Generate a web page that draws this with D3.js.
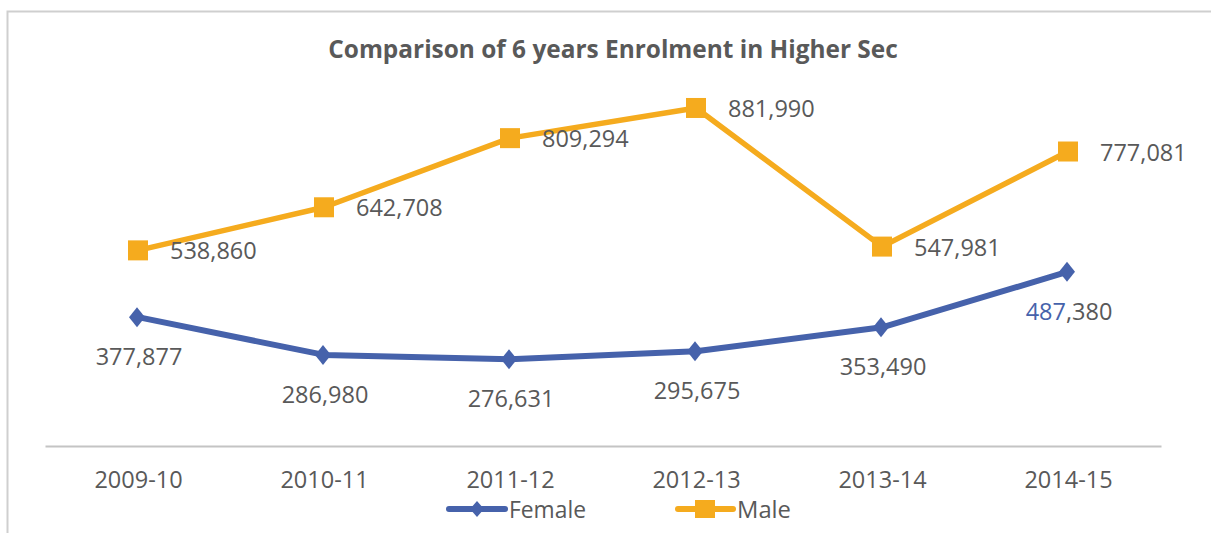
<!DOCTYPE html>
<html>
<head>
<meta charset="utf-8">
<script src="https://cdn.jsdelivr.net/npm/d3@7"></script>
<style>
  html, body { margin: 0; padding: 0; background: #fff; }
  svg { display: block; }
  text { font-family: "Open Sans", "Liberation Sans", sans-serif; fill: #595959; }
</style>
</head>
<body>
<svg id="chart" width="1211" height="533"></svg>
<script>
const categories = ["2009-10", "2010-11", "2011-12", "2012-13", "2013-14", "2014-15"];
const femaleValues = [377877, 286980, 276631, 295675, 353490, 487380];
const maleValues = [538860, 642708, 809294, 881990, 547981, 777081];
const seriesNames = ["Female", "Male"];
const titleText = "Comparison of 6 years Enrolment in Higher Sec";

const W = 1211, H = 533;
const svg = d3.select("#chart");
const blue = "#4662AB", gold = "#F5AB1E", textCol = "#595959";

// frame
svg.append("path")
  .attr("d", `M7.5,${H} V11.5 H${W}`)
  .attr("fill", "none").attr("stroke", "#cfcfcf").attr("stroke-width", 2);

// fit text to a target width
function fit(sel, target) {
  const w = sel.node().getComputedTextLength();
  const fs = parseFloat(sel.attr("font-size"));
  sel.attr("font-size", fs * target / w);
}

// title
const title = svg.append("text")
  .attr("x", 613).attr("y", 58).attr("text-anchor", "middle")
  .attr("font-size", 22).attr("font-weight", "bold").style("fill", textCol)
  .text(titleText);
fit(title, 570);

const x = d3.scalePoint().domain(categories).range([45, 1161]).padding(0.5);
const y = d3.scaleLinear().domain([200000, 900000]).range([391, 100.5]);

// x axis
const xAxis = d3.axisBottom(x).tickSize(0).tickPadding(0);
const gx = svg.append("g").attr("transform", "translate(0,446)").call(xAxis);
gx.select(".domain").attr("stroke", "#c4c4c4").attr("stroke-width", 2);
gx.selectAll(".tick text")
  .attr("y", 42).attr("dy", null)
  .attr("font-size", 23.5).style("fill", textCol)
  .style("font-family", '"Open Sans", "Liberation Sans", sans-serif');

const line = d3.line().x((d, i) => x(categories[i])).y(d => y(d));

// Male line + markers
svg.append("path").datum(maleValues)
  .attr("d", line).attr("fill", "none").attr("stroke", gold)
  .attr("stroke-width", 5.5).attr("stroke-linejoin", "round");
svg.selectAll(".msq").data(maleValues).join("rect")
  .attr("x", (d, i) => x(categories[i]) - 10).attr("y", d => y(d) - 10)
  .attr("width", 20).attr("height", 20).attr("fill", gold);

// Female line + markers
svg.append("path").datum(femaleValues)
  .attr("d", line).attr("fill", "none").attr("stroke", blue)
  .attr("stroke-width", 6).attr("stroke-linejoin", "round");
const diamond = "M0,-10 L8,0 L0,10 L-8,0 Z";
svg.selectAll(".fdm").data(femaleValues).join("path")
  .attr("transform", (d, i) => `translate(${x(categories[i]) - 1},${y(d)})`)
  .attr("d", diamond).attr("fill", blue);

const fmt = d3.format(",");

// Male labels: right of point
svg.selectAll(".mlab").data(maleValues).join("text")
  .attr("x", (d, i) => x(categories[i]) + 32).attr("y", d => y(d) + 9)
  .attr("font-size", 23.5).style("fill", textCol)
  .text(d => fmt(d));

// Female labels: below point
const flab = svg.selectAll(".flab").data(femaleValues).join("text")
  .attr("x", (d, i) => x(categories[i]) + 1).attr("y", d => y(d) + 48)
  .attr("text-anchor", "middle")
  .attr("font-size", 23.5).style("fill", textCol);
flab.each(function(d, i) {
  const s = fmt(d);
  const t = d3.select(this);
  if (i === femaleValues.length - 1) {
    const parts = s.split(",");
    t.append("tspan").style("fill", blue).text(parts[0]);
    t.append("tspan").text("," + parts.slice(1).join(","));
  } else {
    t.text(s);
  }
});

// legend
const lg = svg.append("g");
lg.append("line").attr("x1", 449).attr("x2", 505).attr("y1", 509).attr("y2", 509)
  .attr("stroke", blue).attr("stroke-width", 6).attr("stroke-linecap", "round");
lg.append("path").attr("transform", "translate(477,509)")
  .attr("d", "M0,-8 L7,0 L0,8 L-7,0 Z").attr("fill", blue);
const lf = lg.append("text").attr("x", 509).attr("y", 518)
  .attr("font-size", 23.5).style("fill", textCol).text(seriesNames[0]);
fit(lf, 77);
lg.append("line").attr("x1", 678).attr("x2", 733).attr("y1", 509).attr("y2", 509)
  .attr("stroke", gold).attr("stroke-width", 6).attr("stroke-linecap", "round");
lg.append("rect").attr("x", 695).attr("y", 500).attr("width", 20).attr("height", 18)
  .attr("fill", gold);
const lm = lg.append("text").attr("x", 737).attr("y", 518)
  .attr("font-size", 23.5).style("fill", textCol).text(seriesNames[1]);
fit(lm, 54);
</script>
</body>
</html>
